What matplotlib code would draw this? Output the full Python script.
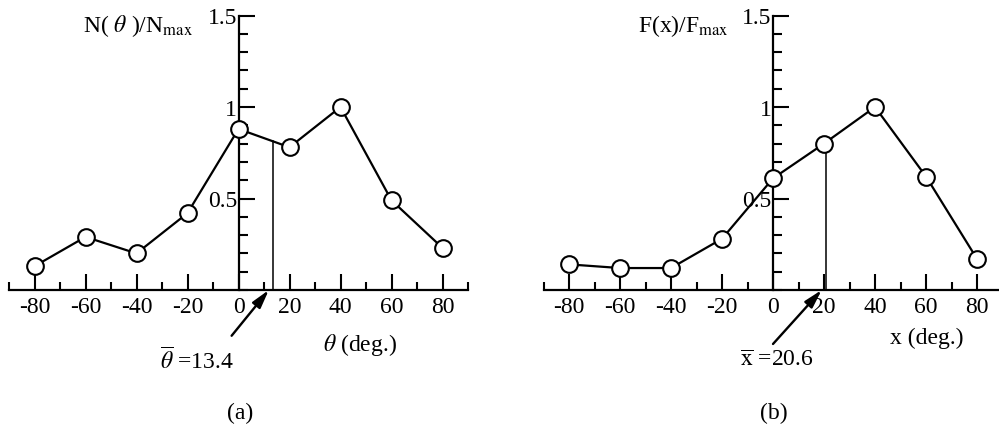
import numpy as np
import matplotlib
matplotlib.use("Agg")
import matplotlib.pyplot as plt
from matplotlib.ticker import MultipleLocator, FixedLocator

plt.rcParams['font.family'] = ['Liberation Serif', 'DejaVu Serif']
plt.rcParams['mathtext.fontset'] = 'stix'

# angles (deg) and normalised distributions
angles = [-80, -60, -40, -20, 0, 20, 40, 60, 80]
n_theta = [0.13, 0.29, 0.20, 0.42, 0.88, 0.78, 1.00, 0.49, 0.23]
f_x = [0.14, 0.12, 0.12, 0.28, 0.61, 0.80, 1.00, 0.62, 0.17]
theta_bar = 13.4
x_bar = 20.6
xtick_labels = ['-80', '-60', '-40', '-20', '0', '20', '40', '60', '80']
ytick_vals = [0.5, 1.0, 1.5]
ytick_labels = ['0.5', '1', '1.5']

W, H = 999, 427
fig = plt.figure(figsize=(W / 100, H / 100), dpi=100)

FS = 17


def panel(left_px, vals, mean, mean_lbl, ylab, xlab, xlab_pos, tail, txt_pos, tag):
    # axes box: x from -90..90, y from 0..1.5
    ax = fig.add_axes([left_px / W, (H - 291) / H, 459 / W, 274.5 / H])
    ax.set_xlim(-90, 90)
    ax.set_ylim(0, 1.5)
    for s in ('top', 'right'):
        ax.spines[s].set_visible(False)
    ax.spines['left'].set_position(('data', 0))
    for s in ('left', 'bottom'):
        ax.spines[s].set_linewidth(1.6)
    ax.patch.set_visible(False)

    ax.xaxis.set_major_locator(FixedLocator(angles))
    ax.set_xticklabels(xtick_labels, fontsize=FS)
    ax.xaxis.set_minor_locator(FixedLocator([-90, -70, -50, -30, -10, 10, 30, 50, 70, 90]))
    ax.yaxis.set_major_locator(FixedLocator(ytick_vals))
    ax.set_yticklabels(ytick_labels, fontsize=FS)
    ax.yaxis.set_minor_locator(MultipleLocator(0.1))
    ax.tick_params(which='both', direction='in', width=1.5)
    ax.tick_params(axis='x', which='major', length=11.5, pad=4)
    ax.tick_params(axis='x', which='minor', length=6)
    ax.tick_params(axis='y', which='major', length=11.5, pad=1)
    ax.tick_params(axis='y', which='minor', length=6.5)

    ax.plot(angles, vals, color='black', lw=1.6, marker='o', ms=12,
            mfc='white', mec='black', mew=1.5, zorder=3, clip_on=False)

    # mean position drop line
    top = np.interp(mean, angles, vals)
    ax.plot([mean, mean], [0, top], color='black', lw=1.1, zorder=2)

    ax.annotate('', xy=(mean - 1.5, 0), xytext=tail,
                arrowprops=dict(arrowstyle='-|>,head_length=1.1,head_width=0.3',
                                color='black', lw=1.7, shrinkA=0, shrinkB=0),
                annotation_clip=False)
    ax.text(txt_pos[0], txt_pos[1], mean_lbl, fontsize=FS, ha='left', va='center',
            clip_on=False)
    ax.text(ylab[1], 1.45, ylab[0], fontsize=FS, ha='left', va='center')
    ax.text(xlab_pos[0], xlab_pos[1], xlab, fontsize=FS, ha='left', va='center',
            clip_on=False)
    ax.text(0.5, -0.667, tag, fontsize=FS, ha='center', va='center', clip_on=False)
    return ax


panel(9, n_theta, theta_bar, r'$\overline{\theta}$ =13.4',
      (r'N( $\theta$ )/N$_{\mathrm{max}}$', -61), r'$\theta$ (deg.)', (33.3, -0.295),
      (-2.7, -0.25), (-30.6, -0.38), '(a)')
panel(543.5, f_x, x_bar, r'$\overline{\mathrm{x}}$ =20.6',
      (r'F(x)/F$_{\mathrm{max}}$', -53), 'x (deg.)', (45.7, -0.257),
      (0, -0.295), (-13, -0.38), '(b)')

fig.savefig('out.png', dpi=100)
